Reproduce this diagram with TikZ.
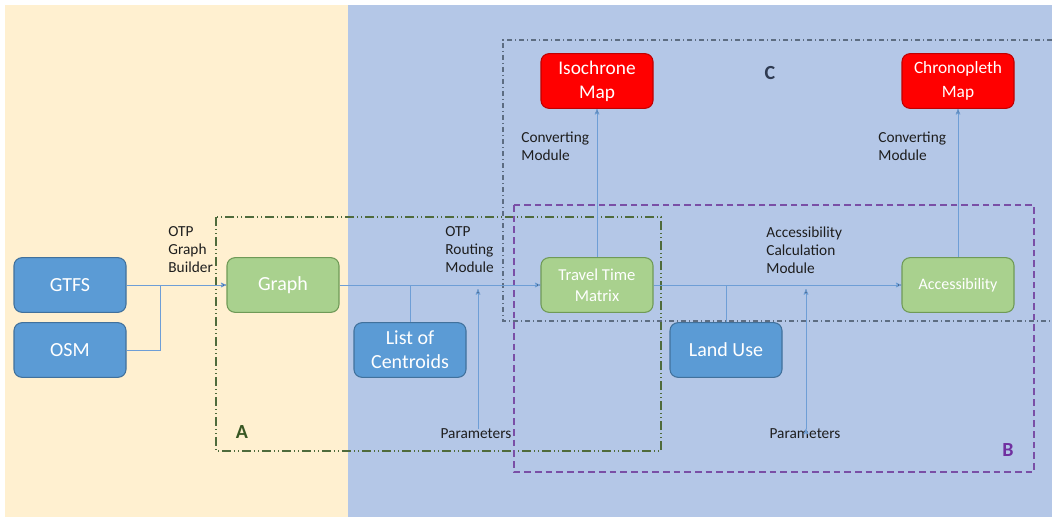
\documentclass[tikz,border=0pt]{standalone}
\usepackage{fontspec}
\setmainfont{Carlito}
\usepackage{tikz}
\usetikzlibrary{arrows}

\definecolor{beigebg}{HTML}{FFF0D0}
\definecolor{bluebg}{HTML}{B4C7E7}
\definecolor{boxblue}{HTML}{5B9BD5}
\definecolor{boxblueline}{HTML}{41719C}
\definecolor{boxgreen}{HTML}{A9D18E}
\definecolor{boxgreenline}{HTML}{6F9A57}
\definecolor{boxred}{HTML}{FF0000}
\definecolor{boxredline}{HTML}{C00000}
\definecolor{linkblue}{HTML}{6E9ED6}
\definecolor{agreen}{HTML}{4F6B3C}
\definecolor{atext}{HTML}{385723}
\definecolor{bpurple}{HTML}{7A4FA6}
\definecolor{btext}{HTML}{7030A0}
\definecolor{cgray}{HTML}{5D6D82}
\definecolor{ctext}{HTML}{2F3B52}
\definecolor{labeltext}{HTML}{1E1E1E}

\begin{document}
\begin{tikzpicture}[x=0.75pt,y=-0.75pt,->,>=stealth',semithick]
  \tikzstyle{box}=[rectangle,rounded corners=6pt,minimum width=84pt,minimum height=41pt,
    text=white,align=center,line width=0.8pt,font=\fontsize{15}{18}\selectfont]
  \tikzstyle{input}=[box,fill=boxblue,draw=boxblueline]
  \tikzstyle{result}=[box,fill=boxgreen,draw=boxgreenline]
  \tikzstyle{map}=[box,fill=boxred,draw=boxredline]
  \tikzstyle{caption}=[align=left,anchor=west,inner sep=0pt,text=labeltext,
    font=\fontsize{11.5}{13.5}\selectfont]
  \tikzstyle{link}=[draw=linkblue,line width=0.6pt]
  \tikzstyle{part}=[font=\fontsize{15}{18}\selectfont\bfseries]

  \useasboundingbox (0,0) rectangle (1052,517);
  \fill[beigebg,draw=none] (5,5) rectangle (348,517);
  \fill[bluebg,draw=none] (348,5) rectangle (1052,517);

  % parts A, B, C
  \draw[-,agreen,line width=1pt,dash pattern=on 7pt off 2pt on 1pt off 2pt on 1pt off 2pt]
    (216,217) rectangle (661,451);
  \draw[-,bpurple,line width=1pt,dash pattern=on 5pt off 3pt] (514,205) rectangle (1034,472);
  \draw[-,cgray,line width=0.8pt,dash pattern=on 4pt off 2pt on 1pt off 2pt]
    (1052,40) -- (503,40) -- (503,321) -- (1052,321);
  \node[part,text=atext] (A) at (242,432) {A};
  \node[part,text=btext] (B) at (1008,450) {B};
  \node[part,text=ctext] (C) at (770,73) {C};

  \node[input] (gtfs) at (70,285) {GTFS};
  \node[input] (osm) at (70,350) {OSM};
  \node[result] (graph) at (283,285) {Graph};
  \node[input] (centroids) at (410,350) {List of\\Centroids};
  \node[result,font=\fontsize{12.5}{16}\selectfont] (ttm) at (597,285) {Travel Time\\Matrix};
  \node[input] (landuse) at (726,350) {Land Use};
  \node[result,font=\fontsize{12}{14}\selectfont] (access) at (958,285) {Accessibility};
  \node[map,font=\fontsize{14.5}{18}\selectfont] (iso) at (597,81) {Isochrone\\Map};
  \node[map,font=\fontsize{13}{18}\selectfont] (chrono) at (958,81) {Chronopleth\\Map};

  \node[caption] (builder) at (168,250) {OTP\\Graph\\Builder};
  \node[caption] (routing) at (445,250) {OTP\\Routing\\Module};
  \node[caption] (calc) at (766,250) {Accessibility\\Calculation\\Module};
  \node[caption] (conv1) at (521,146) {Converting\\Module};
  \node[caption] (conv2) at (878,146) {Converting\\Module};
  \node[caption,anchor=center] (par1) at (476,434) {Parameters};
  \node[caption,anchor=center] (par2) at (805,434) {Parameters};

  \coordinate (join) at (160,285);
  \coordinate (par1end) at (478,289);
  \coordinate (par2end) at (806,289);

  \path[link] (gtfs) edge (graph)
    (graph) edge (ttm)
    (ttm) edge (access)
    (ttm) edge (iso)
    (access) edge (chrono)
    (par1.north -| par1end) edge (par1end)
    (par2.north -| par2end) edge (par2end);
  \draw[link,-] (osm.east) -| (join);
  \draw[link,-] (centroids.north) -- (centroids.north |- graph.east);
  \draw[link,-] (landuse.north) -- (landuse.north |- ttm.east);
\end{tikzpicture}
\end{document}
